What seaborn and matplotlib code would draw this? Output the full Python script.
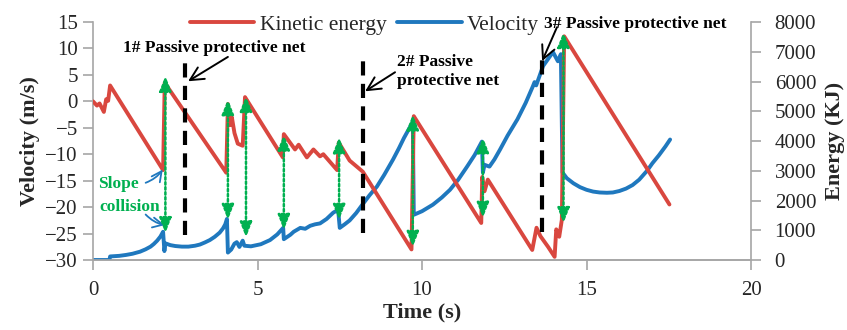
import pandas as pd
import seaborn as sns
import matplotlib.pyplot as plt

# ---- data ----
# red curve ("Kinetic energy" in the legend), drawn against the left axis
red_time = [0, 0.12, 0.2, 0.33, 0.4, 0.46, 0.52, 2.13, 2.18, 4.05, 4.1, 4.17, 4.22, 4.3,
            4.4, 4.55, 4.62, 5.77, 5.8, 6.14, 6.25, 6.5, 6.7, 6.9, 7.0, 7.42, 7.47, 7.8,
            8.2, 9.68, 9.75, 11.8, 11.83, 11.9, 12.0, 13.35, 13.48, 13.6, 13.83, 14.03,
            14.08, 14.17, 14.25, 14.32, 17.52]
red_values = [0, -0.8, -0.4, -2.0, 0.4, 0.1, 3.0, -13.0, 3.5, -13.5, -0.5, -4.5, -3.0, -6.0,
              -8.0, -8.4, 0.8, -10.6, -6.2, -9.1, -8.2, -10.6, -9.1, -10.4, -10.0, -13.0,
              -7.8, -11.2, -13.3, -28.0, -2.8, -23.0, -14.3, -17.0, -14.8, -28.1, -23.9,
              -25.5, -27.5, -29.4, -24.2, -25.6, -22.4, 12.3, -19.5]

# blue curve ("Velocity" in the legend), drawn against the right axis
blue_time = [0, 0.5, 0.52, 0.8, 1.0, 1.2, 1.43, 1.6, 1.75, 1.85, 1.95, 2.05, 2.13,
             2.17, 2.2, 2.35, 2.5, 2.7, 2.9, 3.1, 3.25, 3.4, 3.55, 3.7, 3.85, 3.95, 4.02,
             4.07, 4.1, 4.2, 4.3, 4.37, 4.45, 4.55, 4.6, 4.8, 5.1, 5.38, 5.6, 5.78,
             5.8, 6.0, 6.1, 6.3, 6.45, 6.6, 6.75, 6.9, 7.1, 7.3, 7.45,
             7.5, 7.65, 7.8, 8.0, 8.2, 8.4, 8.63, 8.85, 9.12, 9.3, 9.45, 9.6, 9.72,
             9.75, 10.0, 10.33, 10.6, 10.85, 11.1, 11.37, 11.6, 11.82,
             11.85, 11.9, 12.05, 12.2, 12.37, 12.6, 12.9, 13.15, 13.37, 13.42, 13.47,
             13.68, 13.98, 14.13, 14.22,
             14.27, 14.4, 14.6, 14.8, 15.0, 15.2, 15.4, 15.62, 15.8, 16.0, 16.2, 16.4,
             16.6, 16.84, 17.0, 17.2, 17.4, 17.54]
blue_values = [0, 0, 120, 140, 170, 210, 280, 360, 450, 540, 650, 790, 950,
               300, 560, 500, 470, 450, 450, 480, 520, 590, 670, 780, 920, 1060, 1200,
               1380, 250, 350, 550, 600, 440, 650, 480, 460, 530, 670, 860, 1080,
               700, 850, 950, 1080, 1050, 1150, 1200, 1230, 1380, 1590, 1690,
               1080, 1200, 1330, 1580, 1880, 2170, 2470, 2860, 3380, 3760, 4100, 4400, 4630,
               1520, 1640, 1860, 2100, 2360, 2700, 3140, 3530, 3980,
               2940, 3200, 3140, 3380, 3710, 4180, 4730, 5280, 5840, 5980, 5870,
               6520, 6990, 6680, 6920,
               2940, 2750, 2580, 2450, 2360, 2300, 2270, 2260, 2270, 2320, 2400, 2520,
               2700, 3000, 3250, 3520, 3820, 4050]

# slope collisions (green double arrows), left-axis units
collision_time = [2.2, 4.1, 4.65, 5.8, 7.48, 9.72, 11.85, 14.3]
collision_top = [4.8, 0.4, 1.0, -6.3, -6.8, -2.5, -6.8, 13.1]
collision_bottom = [-24.9, -22.4, -25.7, -24.3, -22.4, -27.5, -22.0, -23.0]

# passive protective nets (black dashed lines)
net_time = [2.8, 8.2, 13.65]
net_top = [8.4, 8.4, 9.0]
net_bottom = [-25.2, -24.8, -24.7]

red = '#d9473f'
blue = '#1f78be'
green = '#00b050'
grey = '#a6a6a6'

df_red = pd.DataFrame({'Time': red_time, 'Value': red_values})
df_blue = pd.DataFrame({'Time': blue_time, 'Value': blue_values})

sns.set_theme(style="white")
plt.rcParams['font.family'] = ['Liberation Serif', 'DejaVu Serif']

fig, ax = plt.subplots(figsize=(8.47, 3.3), dpi=100)
fig.subplots_adjust(left=0.1098, right=0.8867, bottom=0.2121, top=0.9333)
ax2 = ax.twinx()

sns.lineplot(data=df_red, x='Time', y='Value', ax=ax, color=red, lw=2.8,
             sort=False, estimator=None, zorder=3)
sns.lineplot(data=df_blue, x='Time', y='Value', ax=ax2, color=blue, lw=2.8,
             sort=False, estimator=None, zorder=3)

ax.set_xlim(0, 20)
ax.set_ylim(-30, 15)
ax2.set_ylim(0, 8000)
ax.set_xticks(range(0, 21, 5))
ax.set_yticks(range(-30, 16, 5))
ax2.set_yticks(range(0, 8001, 1000))

ax.set_xlabel('Time (s)', fontsize=16, fontweight='bold', labelpad=2)
ax.set_ylabel('Velocity (m/s)', fontsize=16, fontweight='bold', labelpad=4)
ax2.set_ylabel('Energy (KJ)', fontsize=16, fontweight='bold', labelpad=6)
ax2.set_xlabel('')

for a in (ax, ax2):
    for s in a.spines.values():
        s.set_color(grey)
        s.set_linewidth(1.2)
    a.spines['top'].set_visible(False)
    a.tick_params(length=7, width=1.2, color=grey, labelsize=15, direction='out')
    a.grid(False)
ax.spines['right'].set_visible(False)
ax2.spines['left'].set_visible(False)
ax.tick_params(axis='y', left=True, pad=4)
ax.tick_params(axis='x', bottom=True, pad=8)
ax2.tick_params(axis='y', right=True, pad=10)

# annotations go on ax, so put ax above ax2
ax.set_zorder(ax2.get_zorder() + 1)
ax.patch.set_visible(False)

# green collision arrows
for t, top, bot in zip(collision_time, collision_top, collision_bottom):
    ax.annotate('', xy=(t, top), xytext=(t, bot),
                arrowprops=dict(arrowstyle='<|-|>,head_length=0.75,head_width=0.3',
                                color=green, lw=1.8, ls=(0, (1, 1)),
                                shrinkA=0, shrinkB=0), zorder=4)

# passive protective nets
ax.vlines(net_time, net_bottom, net_top, colors='black', lw=3,
          linestyles=[(0, (3.4, 2.0))], zorder=5)

bold = dict(fontsize=12.5, fontweight='bold', color='black')
ax.text(0.91, 10.1, '1# Passive protective net', va='center', ha='left', **bold)
ax.text(9.24, 5.6, '2# Passive\nprotective net', va='center', ha='left',
        linespacing=1.25, **bold)
ax.text(13.7, 14.6, '3# Passive protective net', va='center', ha='left', **bold)

black_arrow = dict(arrowstyle='->,head_length=0.8,head_width=0.4', color='black',
                   lw=1.4, shrinkA=0, shrinkB=0)
ax.annotate('', xy=(2.89, 3.8), xytext=(4.1, 8.4), arrowprops=black_arrow)
ax.annotate('', xy=(8.27, 1.9), xytext=(9.18, 5.5), arrowprops=black_arrow)
ax.annotate('', xy=(13.65, 7.6), xytext=(14.1, 14.0), arrowprops=black_arrow)

# "Slope collision" label
ax.text(0.15, -15.6, 'Slope', color=green, fontsize=12.5, fontweight='bold',
        va='center', ha='left')
ax.text(0.18, -20.0, 'collision', color=green, fontsize=12.5, fontweight='bold',
        va='center', ha='left')
blue_arrow = dict(arrowstyle='->,head_length=0.6,head_width=0.3', color=blue,
                  lw=1.3, shrinkA=0, shrinkB=0)
ax.annotate('', xy=(2.12, -12.9), xytext=(1.6, -15.4),
            arrowprops=dict(connectionstyle='arc3,rad=0.15', **blue_arrow))
ax.annotate('', xy=(2.18, -23.4), xytext=(1.6, -21.4),
            arrowprops=dict(connectionstyle='arc3,rad=0.15', **blue_arrow))

# legend above the plot
h_red = ax.get_lines()[0]
h_blue = ax2.get_lines()[0]
leg = fig.legend([h_red, h_blue], ['Kinetic energy', 'Velocity'], ncol=2,
                 loc='center left', bbox_to_anchor=(0.224, 0.925), frameon=False,
                 fontsize=15.5, handlelength=3.0, handletextpad=0.25, columnspacing=0.5,
                 borderaxespad=0, borderpad=0)

fig.savefig('out.png', dpi=100)
